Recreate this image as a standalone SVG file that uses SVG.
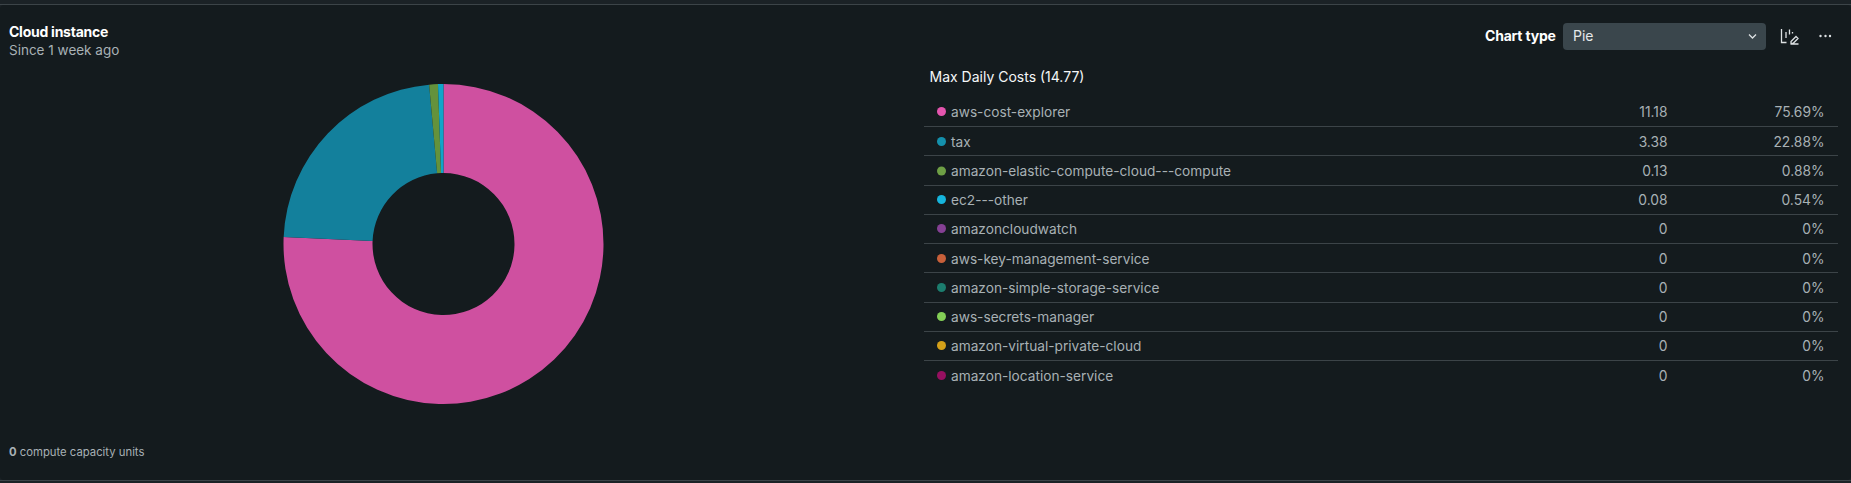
<svg xmlns="http://www.w3.org/2000/svg" width="1851" height="483" viewBox="0 0 1851 483">
<style>
text{font-family:Inter,"Noto Sans","Liberation Sans",sans-serif}
.lb{font-size:13.7px;fill:#a8b1b5}
.v{font-size:13.8px;fill:#a8b1b5;text-anchor:end}
.sep{stroke:#3c4448;stroke-width:1}
.ic{fill:none;stroke:#dde1e3;stroke-width:1.3}
</style>
<rect width="1851" height="483" fill="#1b2226"/>
<rect x="0" y="5" width="1851" height="475" rx="4" fill="#141b1e"/>
<line x1="0" y1="4.5" x2="1851" y2="4.5" stroke="#3c4448"/>
<line x1="0" y1="480.5" x2="1851" y2="480.5" stroke="#3c4448"/>
<g id="header">
<text x="9" y="37" font-size="14" font-weight="700" fill="#ffffff" letter-spacing="-0.25">Cloud instance</text>
<text x="9" y="55" font-size="13.5" fill="#a8b1b5">Since 1 week ago</text>
</g>
<g id="chart-controls">
<text x="1485" y="41" font-size="14" font-weight="700" fill="#ffffff" letter-spacing="-0.2">Chart type</text>
<rect x="1563" y="23" width="203" height="27" rx="4" fill="#3a464c"/>
<text x="1573" y="41" font-size="14" fill="#e6e9ea">Pie</text>
<path class="ic" d="M1749 34.500l3.500 3.500 3.500-3.500"/>
<path class="ic" d="M1781.500 29v13.500h5M1786 32v6M1789.500 29.500v5M1792.500 32v1.500M1790.500 44h8M1791 41.500l5-5 2 2-5 5h-2z"/>
<g fill="#dde1e3"><circle cx="1820.500" cy="36" r="1.200"/><circle cx="1825.500" cy="36" r="1.200"/><circle cx="1830" cy="36" r="1.200"/></g>
</g>
<g id="pie">
<path d="M443.500 84A160 160 0 1 1 283.650 237.070L372.570 240.920A71 71 0 1 0 443.500 173Z" fill="#cf50a0"/>
<path d="M283.650 237.070A160 160 0 0 1 429.140 84.640L437.130 173.290A71 71 0 0 0 372.570 240.920Z" fill="#13809c"/>
<path d="M429.140 84.640A160 160 0 0 1 437.970 84.100L441.050 173.040A71 71 0 0 0 437.130 173.290Z" fill="#64923c"/>
<path d="M437.970 84.100A160 160 0 0 1 443.500 84L443.500 173A71 71 0 0 0 441.050 173.040Z" fill="#10a5c9"/>
</g>
<g id="legend">
<text x="929.500" y="81.500" font-size="14" font-weight="400" fill="#f5f7f8">Max Daily Costs (14.77)</text>
<g id="connectors">
<line class="sep" x1="924" y1="126.500" x2="1838" y2="126.500"/>
<line class="sep" x1="924" y1="155.500" x2="1838" y2="155.500"/>
<line class="sep" x1="924" y1="185.500" x2="1838" y2="185.500"/>
<line class="sep" x1="924" y1="214.500" x2="1838" y2="214.500"/>
<line class="sep" x1="924" y1="243.500" x2="1838" y2="243.500"/>
<line class="sep" x1="924" y1="272.500" x2="1838" y2="272.500"/>
<line class="sep" x1="924" y1="302.500" x2="1838" y2="302.500"/>
<line class="sep" x1="924" y1="331.500" x2="1838" y2="331.500"/>
<line class="sep" x1="924" y1="360.500" x2="1838" y2="360.500"/>
</g>
<g id="row-1"><circle cx="941.500" cy="111.500" r="4.500" fill="#e455ae"/><text class="lb" x="951" y="117">aws-cost-explorer</text><text class="v" x="1667.500" y="117">11.18</text><text class="v" x="1824.500" y="117">75.69%</text></g>
<g id="row-2"><circle cx="941.500" cy="141.500" r="4.500" fill="#1490ac"/><text class="lb" x="951" y="147">tax</text><text class="v" x="1667.500" y="147">3.38</text><text class="v" x="1824.500" y="147">22.88%</text></g>
<g id="row-3"><circle cx="941.500" cy="171" r="4.500" fill="#6e9f45"/><text class="lb" x="951" y="176">amazon-elastic-compute-cloud---compute</text><text class="v" x="1667.500" y="176">0.13</text><text class="v" x="1824.500" y="176">0.88%</text></g>
<g id="row-4"><circle cx="941.500" cy="199.500" r="4.500" fill="#16b5dd"/><text class="lb" x="951" y="204.500">ec2---other</text><text class="v" x="1667.500" y="204.500">0.08</text><text class="v" x="1824.500" y="204.500">0.54%</text></g>
<g id="row-5"><circle cx="941.500" cy="228.500" r="4.500" fill="#854094"/><text class="lb" x="951" y="234">amazoncloudwatch</text><text class="v" x="1667.500" y="234">0</text><text class="v" x="1824.500" y="234">0%</text></g>
<g id="row-6"><circle cx="941.500" cy="258.500" r="4.500" fill="#c8603a"/><text class="lb" x="951" y="264">aws-key-management-service</text><text class="v" x="1667.500" y="264">0</text><text class="v" x="1824.500" y="264">0%</text></g>
<g id="row-7"><circle cx="941.500" cy="287.500" r="4.500" fill="#1c7d6e"/><text class="lb" x="951" y="293">amazon-simple-storage-service</text><text class="v" x="1667.500" y="293">0</text><text class="v" x="1824.500" y="293">0%</text></g>
<g id="row-8"><circle cx="941.500" cy="316.500" r="4.500" fill="#83cf56"/><text class="lb" x="951" y="322">aws-secrets-manager</text><text class="v" x="1667.500" y="322">0</text><text class="v" x="1824.500" y="322">0%</text></g>
<g id="row-9"><circle cx="941.500" cy="345.500" r="4.500" fill="#d4a019"/><text class="lb" x="951" y="351">amazon-virtual-private-cloud</text><text class="v" x="1667.500" y="351">0</text><text class="v" x="1824.500" y="351">0%</text></g>
<g id="row-10"><circle cx="941.500" cy="375.500" r="4.500" fill="#961060"/><text class="lb" x="951" y="380.500">amazon-location-service</text><text class="v" x="1667.500" y="380.500">0</text><text class="v" x="1824.500" y="380.500">0%</text></g>
</g>
<g id="footer"><text x="9" y="456" font-size="11.300" fill="#a8b1b5"><tspan font-weight="700">0</tspan> compute capacity units</text></g>
</svg>
